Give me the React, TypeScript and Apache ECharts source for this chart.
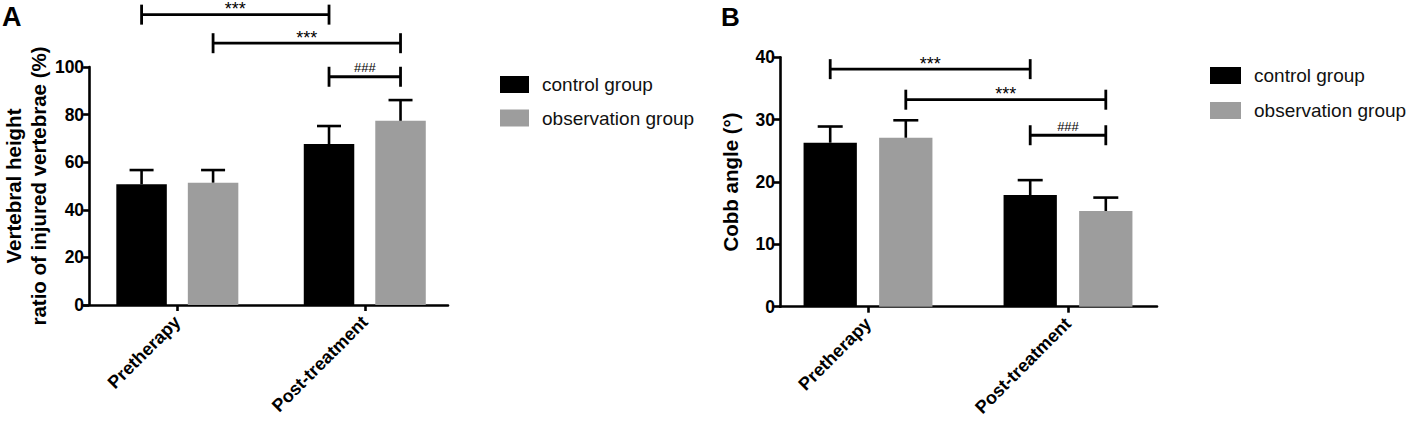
import React, { useEffect, useRef } from "react";
import * as echarts from "echarts";

const categories = ["Pretherapy", "Post-treatment"];
const groups = ["control group", "observation group"];

// Panel A: vertebral height ratio (%)
const aControl = [50.7, 67.6];
const aControlErr = [6.0, 7.6];
const aObs = [51.4, 77.4];
const aObsErr = [5.3, 8.7];
// brackets: [fromCat, fromBar, toCat, toBar, height, label]
const aBrackets: any[] = [
  [0, 0, 1, 0, 122, "***"],
  [0, 1, 1, 1, 110, "***"],
  [1, 0, 1, 1, 95.9, "###"],
];

// Panel B: Cobb angle (°)
const bControl = [26.3, 17.9];
const bControlErr = [2.6, 2.4];
const bObs = [27.1, 15.35];
const bObsErr = [2.8, 2.15];
const bBrackets: any[] = [
  [0, 0, 1, 0, 38.1, "***"],
  [0, 1, 1, 1, 33.2, "***"],
  [1, 0, 1, 1, 27.5, "###"],
];

const aTicks = [0, 20, 40, 60, 80, 100];
const bTicks = [0, 10, 20, 30, 40];

const FONT = "'Liberation Sans', Arial, Helvetica, sans-serif";
const BLACK = "#000000";
const GRAY = "#9d9d9d";

function errData(ctrl: number[], ctrlErr: number[], obs: number[], obsErr: number[]) {
  const out: number[][] = [];
  categories.forEach((_, i) => {
    out.push([i, 0, ctrl[i], ctrl[i] + ctrlErr[i]]);
    out.push([i, 1, obs[i], obs[i] + obsErr[i]]);
  });
  return out;
}

function errRender(off: number, capHalf: number) {
  return (params: any, api: any) => {
    const cat = api.value(0);
    const bar = api.value(1);
    const base = api.coord([cat, api.value(2)]);
    const top = api.coord([cat, api.value(3)]);
    const x = base[0] + (bar === 0 ? -off : off);
    const style = { stroke: BLACK, lineWidth: 2.6 };
    return {
      type: "group",
      children: [
        { type: "line", shape: { x1: x, y1: base[1], x2: x, y2: top[1] }, style },
        { type: "line", shape: { x1: x - capHalf, y1: top[1], x2: x + capHalf, y2: top[1] }, style },
      ],
    };
  };
}

function bracketRender(off: number, brackets: any[]) {
  return (params: any, api: any) => {
    const b = brackets[params.dataIndex];
    const p1 = api.coord([b[0], b[4]]);
    const p2 = api.coord([b[2], b[4]]);
    const x1 = p1[0] + (b[1] === 0 ? -off : off);
    const x2 = p2[0] + (b[3] === 0 ? -off : off);
    const y = p1[1];
    const style = { stroke: BLACK, lineWidth: 2.8 };
    const isHash = b[5] === "###";
    return {
      type: "group",
      children: [
        { type: "line", shape: { x1, y1: y, x2, y2: y }, style },
        { type: "line", shape: { x1, y1: y - 10, x2: x1, y2: y + 10 }, style },
        { type: "line", shape: { x1: x2, y1: y - 10, x2, y2: y + 10 }, style },
        {
          type: "text",
          style: {
            text: b[5],
            x: (x1 + x2) / 2,
            y: isHash ? y - 9 : y - 5.5,
            align: "center",
            verticalAlign: "middle",
            lineHeight: isHash ? 12 : 14,
            fontSize: isHash ? 13 : 18,
            fontFamily: FONT,
            fill: BLACK,
          },
        },
      ],
    };
  };
}

function catAxis(gridIndex: number, margin: number) {
  return {
    type: "category",
    gridIndex,
    data: categories,
    axisLine: { show: false },
    axisTick: { show: true, alignWithLabel: true, length: 6, lineStyle: { color: BLACK, width: 2.6 } },
    axisLabel: {
      rotate: 45,
      margin,
      color: BLACK,
      fontSize: 18,
      fontWeight: "bold",
      fontFamily: FONT,
    },
    splitLine: { show: false },
  };
}

function lineAxis(gridIndex: number) {
  return {
    type: "value",
    gridIndex,
    min: 0,
    max: 1,
    position: "bottom",
    axisLine: { show: true, onZero: false, lineStyle: { color: BLACK, width: 2.6 } },
    axisTick: { show: false },
    axisLabel: { show: false },
    splitLine: { show: false },
  };
}

function valAxis(gridIndex: number, max: number, interval: number, offset: number, name: string, nameGap: number) {
  return {
    type: "value",
    gridIndex,
    min: 0,
    max,
    interval,
    offset,
    name,
    nameLocation: "middle",
    nameRotate: 90,
    nameGap,
    nameTextStyle: {
      color: BLACK,
      fontSize: 20.5,
      fontWeight: "bold",
      fontFamily: FONT,
      lineHeight: 25,
      align: "center",
    },
    axisLine: { show: true, lineStyle: { color: BLACK, width: 2.6 } },
    axisTick: { show: true, length: 6, lineStyle: { color: BLACK, width: 2.6 } },
    axisLabel: {
      color: BLACK,
      fontSize: 17.5,
      fontWeight: "bold",
      fontFamily: FONT,
      margin: 5,
    },
    splitLine: { show: false },
  };
}

function hiddenY(gridIndex: number) {
  return { type: "value", gridIndex, min: 0, max: 1, show: false };
}

export default function App() {
  const ref = useRef<HTMLDivElement>(null);
  useEffect(() => {
    if (!ref.current) return;
    const chart = echarts.init(ref.current, undefined, { renderer: "svg" });
    const aOff = (50.5 + 21) / 2;
    const bOff = (53.3 + 22.3) / 2;
    const legendText = { fontSize: 19, color: "#111", fontFamily: FONT, padding: [0, 0, 0, 8] };
    const option: any = {
      animation: false,
      backgroundColor: "#ffffff",
      textStyle: { fontFamily: FONT },
      grid: [
        { left: 78.5, top: 67, width: 380, height: 238 },
        { left: 84, top: 67, width: 364, height: 238 },
        { left: 768, top: 57.3, width: 400, height: 249.4 },
        { left: 780, top: 57.3, width: 377, height: 249.4 },
      ],
      xAxis: [catAxis(0, 14), lineAxis(1), catAxis(2, 14), lineAxis(3)],
      yAxis: [
        valAxis(0, aTicks[aTicks.length - 1], aTicks[1] - aTicks[0], -5.5, "Vertebral height\nratio of injured vertebrae (%)", 37),
        hiddenY(1),
        valAxis(2, bTicks[bTicks.length - 1], bTicks[1] - bTicks[0], -12, "Cobb angle (°)", 37),
        hiddenY(3),
      ],
      legend: [
        {
          orient: "vertical",
          left: 500,
          top: 75,
          padding: 0,
          itemWidth: 29,
          itemHeight: 17,
          itemGap: 14.5,
          icon: "rect",
          data: groups,
          selectedMode: false,
          textStyle: legendText,
        },
        {
          orient: "vertical",
          left: 1210,
          top: 66,
          padding: 0,
          itemWidth: 31,
          itemHeight: 17,
          itemGap: 16,
          icon: "rect",
          data: groups,
          selectedMode: false,
          textStyle: legendText,
        },
      ],
      graphic: [
        { type: "text", left: 2, top: 3, style: { text: "A", fontSize: 27, fontWeight: "bold", fontFamily: FONT, fill: BLACK } },
        { type: "text", left: 721, top: 4, style: { text: "B", fontSize: 26, fontWeight: "bold", fontFamily: FONT, fill: BLACK } },
      ],
      series: [
        {
          name: groups[0], type: "bar", xAxisIndex: 0, yAxisIndex: 0, data: aControl,
          barWidth: 50.5, barGap: "41.6%", itemStyle: { color: BLACK },
        },
        {
          name: groups[1], type: "bar", xAxisIndex: 0, yAxisIndex: 0, data: aObs,
          barWidth: 50.5, barGap: "41.6%", itemStyle: { color: GRAY },
        },
        {
          name: "errA", type: "custom", xAxisIndex: 0, yAxisIndex: 0,
          data: errData(aControl, aControlErr, aObs, aObsErr),
          encode: { x: 0, y: [2, 3] },
          renderItem: errRender(aOff, 12), z: 3, silent: true,
        },
        {
          name: "sigA", type: "custom", xAxisIndex: 0, yAxisIndex: 0,
          data: aBrackets.map((b) => [b[0], b[4]]),
          encode: { x: 0, y: 1 },
          renderItem: bracketRender(aOff, aBrackets), z: 4, silent: true, clip: false,
        },
        {
          name: groups[0], type: "bar", xAxisIndex: 2, yAxisIndex: 2, data: bControl,
          barWidth: 53.3, barGap: "41.8%", itemStyle: { color: BLACK },
        },
        {
          name: groups[1], type: "bar", xAxisIndex: 2, yAxisIndex: 2, data: bObs,
          barWidth: 53.3, barGap: "41.8%", itemStyle: { color: GRAY },
        },
        {
          name: "errB", type: "custom", xAxisIndex: 2, yAxisIndex: 2,
          data: errData(bControl, bControlErr, bObs, bObsErr),
          encode: { x: 0, y: [2, 3] },
          renderItem: errRender(bOff, 12.5), z: 3, silent: true,
        },
        {
          name: "sigB", type: "custom", xAxisIndex: 2, yAxisIndex: 2,
          data: bBrackets.map((b) => [b[0], b[4]]),
          encode: { x: 0, y: 1 },
          renderItem: bracketRender(bOff, bBrackets), z: 4, silent: true, clip: false,
        },
      ],
    };
    chart.setOption(option);
    return () => chart.dispose();
  }, []);
  return (
    <div
      ref={ref}
      style={{ position: "fixed", left: 0, top: 0, width: 1418, height: 431, background: "#fff" }}
    />
  );
}
